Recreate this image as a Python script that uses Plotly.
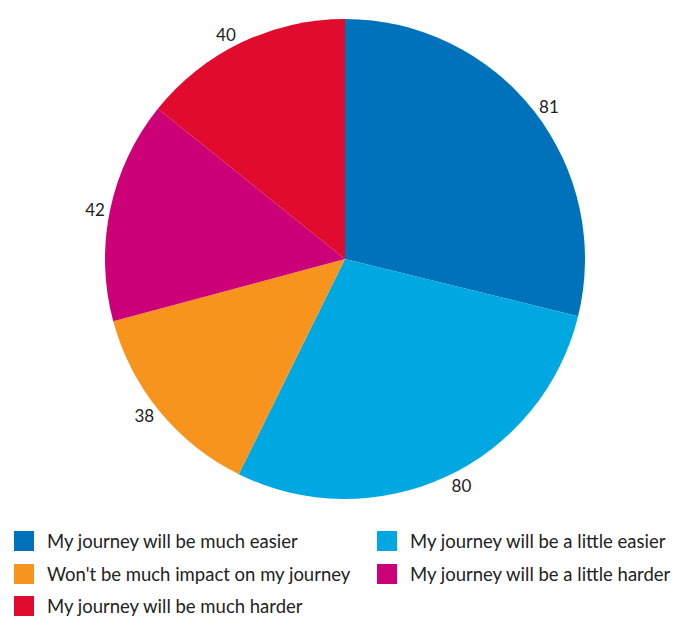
import plotly.graph_objects as go

labels = [
    "My journey will be much easier",
    "My journey will be a little easier",
    "Won't be much impact on my journey",
    "My journey will be a little harder",
    "My journey will be much harder",
]
values = [81, 80, 38, 42, 40]
colors = ["#0072bc", "#00a8e1", "#f7941d", "#cc0077", "#e00b2d"]

W, H = 676, 618
cx, cy, r = 345, 259, 240

fig = go.Figure(go.Pie(
    labels=labels,
    values=values,
    sort=False,
    direction="clockwise",
    rotation=0,
    marker=dict(colors=colors, line=dict(width=0)),
    textinfo="value",
    textposition="outside",
    outsidetextfont=dict(size=17, color="#222222", family="Lato"),
    automargin=False,
    domain=dict(x=[(cx - r) / W, (cx + r) / W],
                y=[1 - (cy + r) / H, 1 - (cy - r) / H]),
    hoverinfo="label+value",
    showlegend=False,
))

# manual two-column legend
col_x = [14, 377]
row_y = [541, 574, 606]
sq = 20
shapes = []
annotations = []
for i, (lab, col) in enumerate(zip(labels, colors)):
    cxi = col_x[i % 2]
    ryi = row_y[i // 2]
    shapes.append(dict(type="rect", xref="paper", yref="paper",
                       x0=cxi / W, x1=(cxi + sq) / W,
                       y0=1 - (ryi + sq / 2) / H, y1=1 - (ryi - sq / 2) / H,
                       fillcolor=col, line=dict(width=0)))
    annotations.append(dict(xref="paper", yref="paper",
                            x=(cxi + sq + 11) / W, y=1 - ryi / H,
                            xanchor="left", yanchor="middle",
                            text=lab, showarrow=False,
                            font=dict(size=18.5, family="Lato", color="#222222")))

fig.update_layout(
    width=W, height=H,
    margin=dict(l=0, r=0, t=0, b=0),
    paper_bgcolor="white",
    font=dict(family="Lato", size=17, color="#222222"),
    shapes=shapes,
    annotations=annotations,
)

fig.write_html("out.html")
